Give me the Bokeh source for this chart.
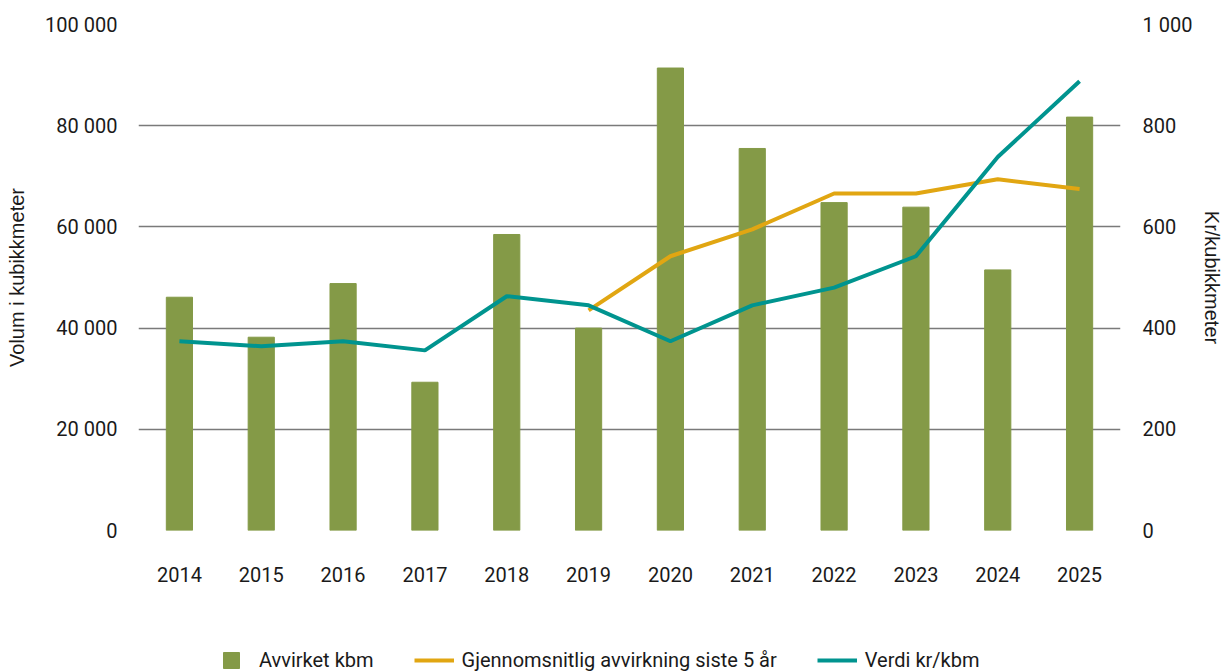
import math
from bokeh.plotting import figure
from bokeh.layouts import column
from bokeh.models import Range1d, LinearAxis, FixedTicker, Legend, LegendItem, ColumnDataSource
from bokeh.embed import file_html
from bokeh.resources import INLINE

years = ["2014", "2015", "2016", "2017", "2018", "2019", "2020", "2021", "2022", "2023", "2024", "2025"]
volume = [46100, 38200, 48800, 29300, 58500, 40000, 91400, 75500, 64800, 63900, 51500, 81700]
avg5 = [math.nan, math.nan, math.nan, math.nan, math.nan, 435, 542, 595, 666, 666, 694, 675]
value_kr = [374, 364, 374, 356, 463, 445, 374, 445, 480, 542, 738, 888]

left_ticks = [0, 20000, 40000, 60000, 80000, 100000]
left_labels = ["0", "20 000", "40 000", "60 000", "80 000", "100 000"]
right_ticks = [0, 200, 400, 600, 800, 1000]
right_labels = ["0", "200", "400", "600", "800", "1 000"]

BAR = "#849A47"
ORANGE = "#E1A612"
TEAL = "#00948F"
FONT = "Roboto"
TITLE_FONT = "Liberation Sans"
TXT = "#1a1a1a"

src = ColumnDataSource(dict(year=years, volume=volume, avg5=avg5, value_kr=value_kr))

p = figure(width=1226, height=600, x_range=years, y_range=Range1d(0, 100000),
           output_backend="svg", toolbar_location=None,
           min_border_left=138, min_border_right=98, min_border_top=24, min_border_bottom=70)
p.x_range.range_padding = 0
p.outline_line_color = None
p.extra_y_ranges = {"kr": Range1d(0, 1000)}

p.vbar(x="year", top="volume", width=0.32, source=src, color=BAR)
p.line(x="year", y="avg5", source=src, color=ORANGE, line_width=4, y_range_name="kr")
p.line(x="year", y="value_kr", source=src, color=TEAL, line_width=4, y_range_name="kr")

p.xgrid.visible = False
p.ygrid.ticker = FixedTicker(ticks=left_ticks)
p.ygrid.grid_line_color = "#7a7a7a"
p.ygrid.grid_line_width = 1.5

def style(ax):
    ax.axis_line_color = None
    ax.major_tick_line_color = None
    ax.minor_tick_line_color = None
    ax.major_label_text_font = FONT
    ax.major_label_text_font_size = "20px"
    ax.major_label_text_color = TXT
    ax.axis_label_text_font = TITLE_FONT
    ax.axis_label_text_font_size = "20px"
    ax.axis_label_text_font_style = "normal"
    ax.axis_label_text_color = TXT

xa = p.xaxis[0]
style(xa)
xa.major_label_standoff = 30

ya = p.yaxis[0]
style(ya)
ya.ticker = FixedTicker(ticks=left_ticks)
ya.major_label_overrides = dict(zip(left_ticks, left_labels))
ya.major_label_standoff = 15
ya.axis_label = "Volum i kubikkmeter"
ya.axis_label_standoff = 14

ra = LinearAxis(y_range_name="kr", ticker=FixedTicker(ticks=right_ticks))
style(ra)
ra.major_label_overrides = dict(zip(right_ticks, right_labels))
ra.major_label_standoff = 16
ra.axis_label = "Kr/kubikkmeter"
ra.axis_label_standoff = 6
p.add_layout(ra, "right")

# legend strip below the chart (its frame is aligned with the chart's frame)
lg = figure(width=1226, height=71, output_backend="svg", toolbar_location=None,
            x_axis_type=None, y_axis_type=None,
            min_border_left=0, min_border_right=0, min_border_top=0, min_border_bottom=0)
lg.outline_line_color = None
lg.grid.visible = False
r_bar = lg.scatter(x=[math.nan], y=[math.nan], marker="square", color=BAR)
r_avg = lg.line(x=[math.nan, math.nan], y=[math.nan, math.nan], color=ORANGE, line_width=4)
r_val = lg.line(x=[math.nan, math.nan], y=[math.nan, math.nan], color=TEAL, line_width=4)

legend = Legend(items=[
    LegendItem(label="Avvirket kbm", renderers=[r_bar]),
    LegendItem(label="Gjennomsnitlig avvirkning siste 5 år", renderers=[r_avg]),
    LegendItem(label="Verdi kr/kbm", renderers=[r_val]),
], orientation="horizontal", location=(73, -9),
    glyph_width=40, glyph_height=40, label_standoff=8, spacing=40,
    padding=0, margin=0, border_line_color=None, background_fill_alpha=0,
    label_text_font=FONT, label_text_font_size="20px", label_text_color=TXT)
lg.add_layout(legend, "center")

layout = column(p, lg, spacing=0)
open("out.html", "w").write(file_html(layout, INLINE))
